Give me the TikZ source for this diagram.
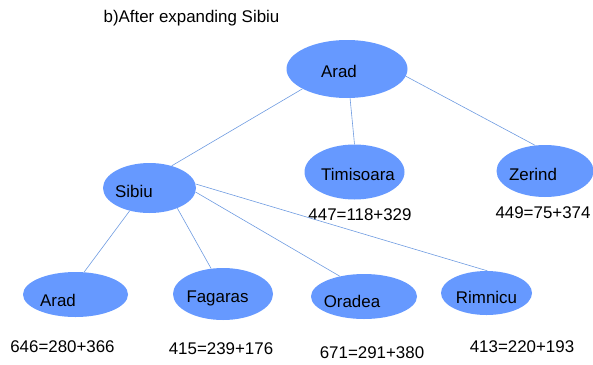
\documentclass[tikz,border=0pt]{standalone}
\usepackage{fontspec}
\setmainfont{Liberation Sans}
\usetikzlibrary{shapes.geometric}
\definecolor{cityblue}{RGB}{102,153,255}
\definecolor{edgeblue}{RGB}{110,155,225}

\begin{document}
\begin{tikzpicture}[x=1pt,y=-1pt,
  city/.style={ellipse, fill=cityblue, inner sep=0pt},
  lab/.style={anchor=base, inner sep=0pt, font=\fontsize{16.9}{19}\selectfont},
  edge/.style={draw=edgeblue, line width=0.6pt}]

\useasboundingbox (0,0) rectangle (593,364);

\node [lab] (title) at (191.5,22) {b)After expanding Sibiu};

% ellipses
\node [city, minimum width=121, minimum height=58] (aradT) at (347,69) {};
\node [city, minimum width=93, minimum height=50] (sibiu) at (149.5,188) {};
\node [city, minimum width=100, minimum height=55] (timisoara) at (354.5,172) {};
\node [city, minimum width=97, minimum height=52] (zerind) at (545,171) {};
\node [city, minimum width=105, minimum height=45] (aradB) at (75.5,294.5) {};
\node [city, minimum width=100, minimum height=52] (fagaras) at (223,294) {};
\node [city, minimum width=106, minimum height=45] (oradea) at (364,296.5) {};
\node [city, minimum width=91, minimum height=44] (rimnicu) at (486.5,293) {};

% names
\node [lab] (aradTtxt) at (339,77) {Arad};
\node [lab] (sibiutxt) at (134,197) {Sibiu};
\node [lab] (timtxt) at (358,180) {Timisoara};
\node [lab] (zertxt) at (533,180) {Zerind};
\node [lab] (aradBtxt) at (58,306) {Arad};
\node [lab] (fagtxt) at (217.5,302) {Fagaras};
\node [lab] (oratxt) at (352,307) {Oradea};
\node [lab] (rimtxt) at (486.5,303) {Rimnicu};

% costs
\node [lab] (timcost) at (360,220) {447=118+329};
\node [lab] (zercost) at (543,218) {449=75+374};
\node [lab] (aradcost) at (62.5,352) {646=280+366};
\node [lab] (fagcost) at (221,354) {415=239+176};
\node [lab] (oracost) at (372,358) {671=291+380};
\node [lab] (rimcost) at (522,352) {413=220+193};

% tree edges
\draw [edge] (aradT.204) -- (sibiu.45);
\draw [edge] (aradT.-84) -- (timisoara.north);
\draw [edge] (aradT.-7) -- (zerind.111);
\draw [edge] (sibiu.229) -- (aradB.69);
\draw [edge] (sibiu.-36) -- (fagaras.115);
\draw [edge] (sibiu.-5) -- (oradea.140);
\draw [edge] (sibiu.5) -- (rimnicu.88);

\end{tikzpicture}
\end{document}
